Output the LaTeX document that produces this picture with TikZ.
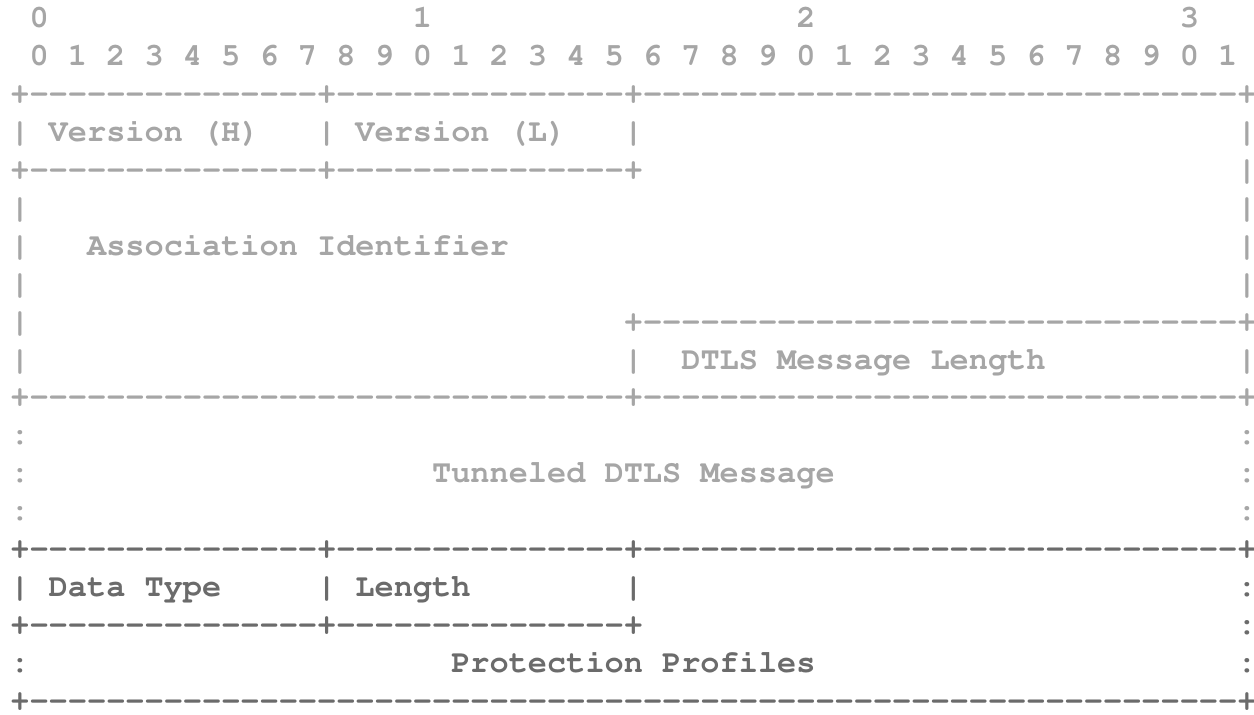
\documentclass[tikz,border=0pt]{standalone}
\usepackage[T1]{fontenc}
\usepackage{courier}
\definecolor{hell}{HTML}{A6A6A6}
\definecolor{dunkel}{HTML}{6B6B6B}
% n einzelne Striche, ohne Ligaturen
\newcommand\striche[1]{\foreach \i in {1,...,#1}{-}}
\tikzset{
  zeichen/.style={anchor=base west, inner sep=0pt, outer sep=0pt, text=hell,
    font=\fontsize{15.975}{19}\selectfont\ttfamily\bfseries},
  unten/.style={zeichen, text=dunkel},
}
\begin{document}
\begin{tikzpicture}[x={(9.585pt,0)}, y={(0,-18.95pt)}]
    \useasboundingbox (-5.2pt,14pt) rectangle (621.8pt,-343.5pt);
    % Bitnummern
    \node[zeichen] (z0) at (1,0) {0};
    \node[zeichen] (z1) at (21,0) {1};
    \node[zeichen] (z2) at (41,0) {2};
    \node[zeichen] (z3) at (61,0) {3};
    \node[zeichen] (bits) at (1,1) {0 1 2 3 4 5 6 7 8 9 0 1 2 3 4 5 6 7 8 9 0 1 2 3 4 5 6 7 8 9 0 1};

    % Version
    \node[zeichen] (kopf) at (0,2) {+\striche{15}+\striche{15}+\striche{31}+};
    \node[zeichen] (vh) at (2,3) {Version (H)};
    \node[zeichen] (t1) at (16,3) {|};
    \node[zeichen] (vl) at (18,3) {Version (L)};
    \node[zeichen] (t2) at (32,3) {|};
    \node[zeichen] (vunten) at (0,4) {+\striche{15}+\striche{15}+};

    % Association Identifier
    \node[zeichen] (assoc) at (4,6) {Association Identifier};
    \node[zeichen] (loben) at (32,8) {+\striche{31}+};
    \node[zeichen] (t3) at (32,9) {|};
    \node[zeichen] (laenge) at (35,9) {DTLS Message Length};
    \foreach \r in {3,5,6,7,8,9}
        \node[zeichen] (l\r) at (0,\r) {|};
    \foreach \r in {3,4,5,6,7,9}
        \node[zeichen] (r\r) at (64,\r) {|};
    \node[zeichen] (mitte) at (0,10) {+\striche{31}+\striche{31}+};

    % Tunneled DTLS Message
    \foreach \r in {11,12,13} {
        \node[zeichen] (l\r) at (0,\r) {:};
        \node[zeichen] (r\r) at (64,\r) {:};
    }
    \node[zeichen] (tunnel) at (22,12) {Tunneled DTLS Message};

    % Protection Profiles
    \node[unten] (pkopf) at (0,14) {+\striche{15}+\striche{15}+\striche{31}+};
    \node[unten] (l15) at (0,15) {|};
    \node[unten] (typ) at (2,15) {Data Type};
    \node[unten] (t4) at (16,15) {|};
    \node[unten] (len) at (18,15) {Length};
    \node[unten] (t5) at (32,15) {|};
    \node[unten] (punten) at (0,16) {+\striche{15}+\striche{15}+};
    \node[unten] (l17) at (0,17) {:};
    \node[unten] (profile) at (23,17) {Protection Profiles};
    \foreach \r in {15,16,17}
        \node[unten] (r\r) at (64,\r) {:};
    \node[unten] (fuss) at (0,18) {+\striche{63}+};
\end{tikzpicture}
\end{document}
